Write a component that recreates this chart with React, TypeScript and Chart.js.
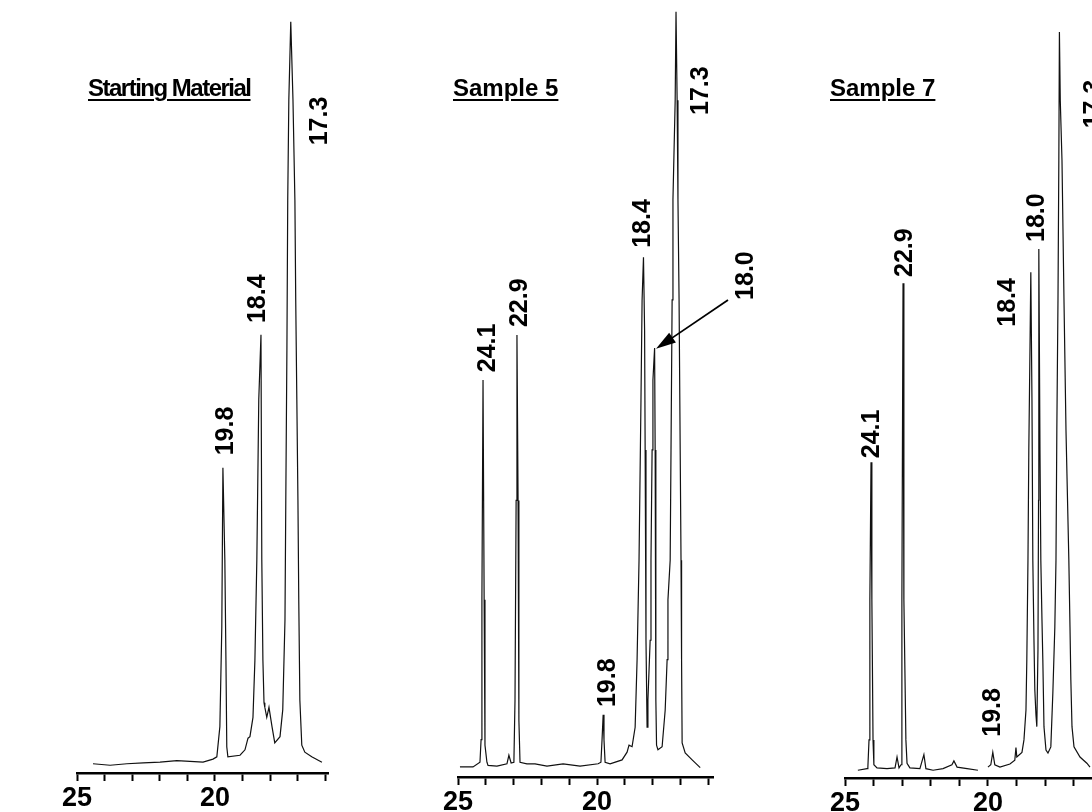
import React, { useEffect, useRef } from 'react';
import { Chart, registerables } from 'chart.js';

Chart.register(...registerables);

const FONT = '"Liberation Sans", Arial, Helvetica, sans-serif';

// ---- Data: retention time (min) and detector response (% of full scale) ----
const SM_TIME = [24.42, 23.8, 23.19, 22.6, 21.99, 21.38, 20.43, 20.07, 19.93, 19.82, 19.75, 19.71, 19.64, 19.6, 19.57, 19.53, 19.09, 18.91, 18.8, 18.73, 18.62, 18.55, 18.48, 18.41, 18.33, 18.3, 18.26, 18.22, 18.19, 18.12, 18.04, 17.93, 17.83, 17.64, 17.54, 17.46, 17.43, 17.39, 17.36, 17.32, 17.25, 17.17, 17.1, 17.07, 17.03, 16.99, 16.96, 16.92, 16.85, 16.74, 16.49, 16.12];
const SM_SIGNAL = [1.2, 1.0, 1.2, 1.3, 1.4, 1.6, 1.4, 1.8, 2.1, 6.0, 18.9, 39.5, 27.6, 14.6, 3.4, 2.1, 2.3, 3.0, 4.5, 4.7, 7.2, 14.6, 27.6, 48.3, 56.7, 27.6, 14.6, 9.1, 8.5, 7.2, 8.5, 6.0, 3.9, 4.7, 8.2, 19.8, 35.3, 54.7, 74.1, 87.1, 97.2, 87.1, 74.1, 61.2, 48.3, 35.3, 22.4, 9.4, 3.6, 2.7, 2.1, 1.4];

const S5_TIME = [24.93, 24.46, 24.21, 24.17, 24.14, 24.1, 24.06, 24.03, 23.96, 23.92, 23.6, 23.24, 23.17, 23.09, 22.99, 22.95, 22.91, 22.88, 22.84, 22.81, 22.77, 22.52, 22.23, 21.8, 21.22, 20.61, 19.96, 19.86, 19.82, 19.78, 19.75, 19.71, 19.53, 19.1, 18.92, 18.85, 18.74, 18.63, 18.56, 18.49, 18.42, 18.38, 18.33, 18.29, 18.27, 18.24, 18.2, 18.17, 18.09, 18.06, 18.02, 17.99, 17.93, 17.91, 17.89, 17.88, 17.86, 17.81, 17.66, 17.55, 17.48, 17.45, 17.37, 17.34, 17.3, 17.27, 17.19, 17.16, 17.12, 17.09, 17.05, 17.01, 16.98, 16.96, 16.94, 16.83, 16.58, 16.29];
const S5_SIGNAL = [1.3, 1.3, 1.9, 4.8, 22.8, 51.1, 22.8, 4.1, 1.9, 1.5, 1.4, 1.7, 2.8, 1.8, 1.9, 9.9, 35.6, 56.9, 35.6, 7.3, 1.9, 1.7, 1.7, 1.4, 1.7, 1.4, 1.7, 1.9, 4.8, 8.0, 4.8, 1.9, 1.7, 2.2, 3.2, 4.1, 3.9, 6.4, 15.1, 27.9, 48.5, 61.4, 66.9, 57.5, 42.1, 17.6, 6.4, 9.9, 17.6, 27.9, 42.1, 51.1, 55.2, 42.1, 22.8, 9.9, 4.1, 3.5, 3.9, 8.6, 15.1, 22.8, 27.9, 42.1, 61.4, 74.3, 87.1, 98.5, 87.1, 74.3, 61.4, 42.1, 27.9, 15.1, 4.4, 3.1, 2.2, 1.2];

const S7_TIME = [24.55, 24.23, 24.2, 24.16, 24.13, 24.09, 24.06, 24.02, 23.99, 23.88, 23.53, 23.25, 23.18, 23.11, 23.04, 23.01, 22.97, 22.94, 22.87, 22.83, 22.73, 22.38, 22.24, 22.17, 21.92, 21.57, 21.26, 21.19, 21.08, 20.73, 20.35, 20.2, 20.0, 19.9, 19.83, 19.76, 19.58, 19.23, 19.06, 19.02, 18.99, 18.81, 18.74, 18.67, 18.64, 18.6, 18.57, 18.53, 18.5, 18.46, 18.43, 18.39, 18.36, 18.32, 18.29, 18.25, 18.23, 18.22, 18.18, 18.15, 18.11, 18.08, 18.04, 17.97, 17.9, 17.8, 17.73, 17.66, 17.62, 17.59, 17.55, 17.52, 17.5, 17.47, 17.41, 17.34, 17.27, 17.17, 17.13, 17.1, 17.06, 16.99, 16.78, 16.54, 16.43];
const S7_SIGNAL = [1.0, 1.2, 1.4, 4.9, 22.9, 40.6, 22.9, 4.9, 1.7, 1.3, 1.2, 1.3, 2.7, 1.3, 1.7, 22.9, 63.6, 22.9, 4.9, 1.9, 1.3, 1.2, 3.0, 1.2, 1.0, 1.2, 1.7, 2.2, 1.4, 1.2, 1.0, null, 1.4, 1.7, 3.3, 1.7, 1.4, 1.8, 2.3, 3.9, 2.7, 3.3, 4.9, 8.7, 15.2, 28.0, 42.2, 55.0, 65.0, 48.6, 28.0, 17.7, 11.3, 8.1, 6.6, 16.5, 35.7, 68.0, 42.2, 28.0, 20.3, 15.2, 6.6, 3.6, 3.2, 4.0, 10.9, 19.4, 28.0, 44.7, 61.4, 79.4, 95.9, 87.1, 79.4, 61.4, 44.7, 28.0, 19.4, 12.6, 6.6, 4.0, 2.7, 1.9, 1.4];

// axis ticks (min) and the ticks that carry a label
const AXIS_TICKS = [25, 24, 23, 22, 21, 20, 19, 18, 17, 16];
const AXIS_LABELS = [25, 20];

// peak annotations: text, anchored at (time, response) = lower end of the rotated text
const SM_PEAKS = [
  { text: '19.8', t: 19.6, s: 41.1 },
  { text: '18.4', t: 18.44, s: 58.2 },
  { text: '17.3', t: 16.2, s: 81.2 },
];
const S5_PEAKS = [
  { text: '24.1', t: 23.92, s: 52.1 },
  { text: '22.9', t: 22.77, s: 57.9 },
  { text: '19.8', t: 19.6, s: 9.0 },
  { text: '18.4', t: 18.35, s: 68.1 },
  { text: '17.3', t: 16.26, s: 85.2 },
  { text: '18.0', t: 14.64, s: 61.4 },
];
const S5_ARROWS = [{ fromT: 15.29, fromS: 61.4, toT: 17.88, toS: 55.1 }];
const S7_PEAKS = [
  { text: '24.1', t: 24.06, s: 41.1 },
  { text: '22.9', t: 22.9, s: 64.4 },
  { text: '19.8', t: 19.83, s: 5.3 },
  { text: '18.4', t: 19.3, s: 58.0 },
  { text: '18.0', t: 18.29, s: 68.9 },
  { text: '17.3', t: 16.29, s: 83.5 },
];

type Peak = { text: string; t: number; s: number };
type Arrow = { fromT: number; fromS: number; toT: number; toS: number };

type PanelCfg = {
  id: string;
  title: string;
  time: number[];
  signal: (number | null)[];
  peaks: Peak[];
  arrows: Arrow[];
  minTime: number;
  left: number;
  right: number;
  axisY: number;
  titleLeft: number;
  titleSpacing: number;
};

const W = 1092;
const H = 812;

const PANELS: PanelCfg[] = [
  { id: 'sm', title: 'Starting Material', time: SM_TIME, signal: SM_SIGNAL, peaks: SM_PEAKS, arrows: [], minTime: 15.9, left: 77, right: 328, axisY: 773, titleLeft: 88, titleSpacing: -1.5 },
  { id: 's5', title: 'Sample 5', time: S5_TIME, signal: S5_SIGNAL, peaks: S5_PEAKS, arrows: S5_ARROWS, minTime: 15.83, left: 458, right: 713, axisY: 777, titleLeft: 453, titleSpacing: 0 },
  { id: 's7', title: 'Sample 7', time: S7_TIME, signal: S7_SIGNAL, peaks: S7_PEAKS, arrows: [], minTime: 16.36, left: 845, right: 1092, axisY: 778, titleLeft: 830, titleSpacing: 0 },
];

function Panel({ cfg }: { cfg: PanelCfg }) {
  const ref = useRef<HTMLCanvasElement>(null);
  useEffect(() => {
    const canvas = ref.current;
    if (!canvas) return;
    const annotate = {
      id: 'peakLabels_' + cfg.id,
      afterDatasetsDraw(chart: any) {
        const { ctx } = chart;
        const xs = chart.scales.x;
        const ys = chart.scales.y;
        ctx.save();
        ctx.fillStyle = '#000';
        ctx.font = 'bold 25px ' + FONT;
        ctx.textAlign = 'left';
        ctx.textBaseline = 'middle';
        for (const p of cfg.peaks) {
          const px = xs.getPixelForValue(p.t);
          const py = ys.getPixelForValue(p.s);
          ctx.save();
          ctx.translate(px, py);
          ctx.rotate(-Math.PI / 2);
          ctx.fillText(p.text, 0, 0);
          ctx.restore();
        }
        for (const a of cfg.arrows) {
          const x1 = xs.getPixelForValue(a.fromT);
          const y1 = ys.getPixelForValue(a.fromS);
          const x2 = xs.getPixelForValue(a.toT);
          const y2 = ys.getPixelForValue(a.toS);
          const ang = Math.atan2(y2 - y1, x2 - x1);
          const headLen = 20;
          const headHalf = 6;
          ctx.strokeStyle = '#000';
          ctx.lineWidth = 1.8;
          ctx.beginPath();
          ctx.moveTo(x1, y1);
          ctx.lineTo(x2 - Math.cos(ang) * headLen * 0.8, y2 - Math.sin(ang) * headLen * 0.8);
          ctx.stroke();
          ctx.beginPath();
          ctx.moveTo(x2, y2);
          const bx = x2 - Math.cos(ang) * headLen;
          const by = y2 - Math.sin(ang) * headLen;
          ctx.lineTo(bx + Math.sin(ang) * headHalf, by - Math.cos(ang) * headHalf);
          ctx.lineTo(bx - Math.sin(ang) * headHalf, by + Math.cos(ang) * headHalf);
          ctx.closePath();
          ctx.fill();
        }
        ctx.restore();
      },
    };
    const chart = new Chart(canvas, {
      type: 'line',
      data: {
        datasets: [
          {
            data: cfg.time.map((t, i) => ({ x: t, y: cfg.signal[i] })) as any,
            borderColor: '#111',
            borderWidth: 1.2,
            pointRadius: 0,
            tension: 0,
            fill: false,
            spanGaps: false,
          },
        ],
      },
      options: {
        animation: false,
        responsive: false,
        maintainAspectRatio: false,
        events: [],
        layout: { padding: { left: cfg.left, right: W - cfg.right, top: 0, bottom: 0 } },
        plugins: { legend: { display: false }, tooltip: { enabled: false }, title: { display: false } },
        scales: {
          x: {
            type: 'linear',
            reverse: true,
            min: cfg.minTime,
            max: 25,
            afterBuildTicks: (s: any) => {
              s.ticks = AXIS_TICKS.filter((v) => v >= cfg.minTime).map((v) => ({ value: v }));
            },
            afterFit: (s: any) => {
              s.height = H - cfg.axisY;
            },
            grid: { drawOnChartArea: false, drawTicks: true, tickLength: 8, tickColor: '#000', tickWidth: 2 },
            border: { display: true, color: '#000', width: 2.5 },
            ticks: {
              autoSkip: false,
              maxRotation: 0,
              minRotation: 0,
              padding: 1,
              color: '#000',
              font: { family: FONT, size: 27, weight: 'bold' },
              callback: (v: any) => (AXIS_LABELS.includes(Number(v)) ? String(v) : ''),
            },
          },
          y: { display: false, min: 0, max: 100 },
        },
      } as any,
      plugins: [annotate],
    });
    return () => chart.destroy();
  }, [cfg]);
  return (
    <canvas
      ref={ref}
      width={W}
      height={H}
      style={{ position: 'absolute', left: 0, top: 0, width: W, height: H }}
    />
  );
}

export default function App() {
  return (
    <div style={{ position: 'absolute', left: 0, top: 0, width: W, height: H, background: '#fff', overflow: 'hidden' }}>
      {PANELS.map((p) => (
        <Panel key={p.id} cfg={p} />
      ))}
      {PANELS.map((p) => (
        <div
          key={'t' + p.id}
          style={{
            position: 'absolute',
            left: p.titleLeft,
            top: 76,
            fontFamily: FONT,
            fontWeight: 'bold',
            fontSize: 24,
            lineHeight: '24px',
            letterSpacing: p.titleSpacing + 'px',
            color: '#000',
            whiteSpace: 'nowrap',
            textDecoration: 'underline',
            textDecorationThickness: '2px',
            textUnderlineOffset: '3px',
          }}
        >
          {p.title}
        </div>
      ))}
    </div>
  );
}
